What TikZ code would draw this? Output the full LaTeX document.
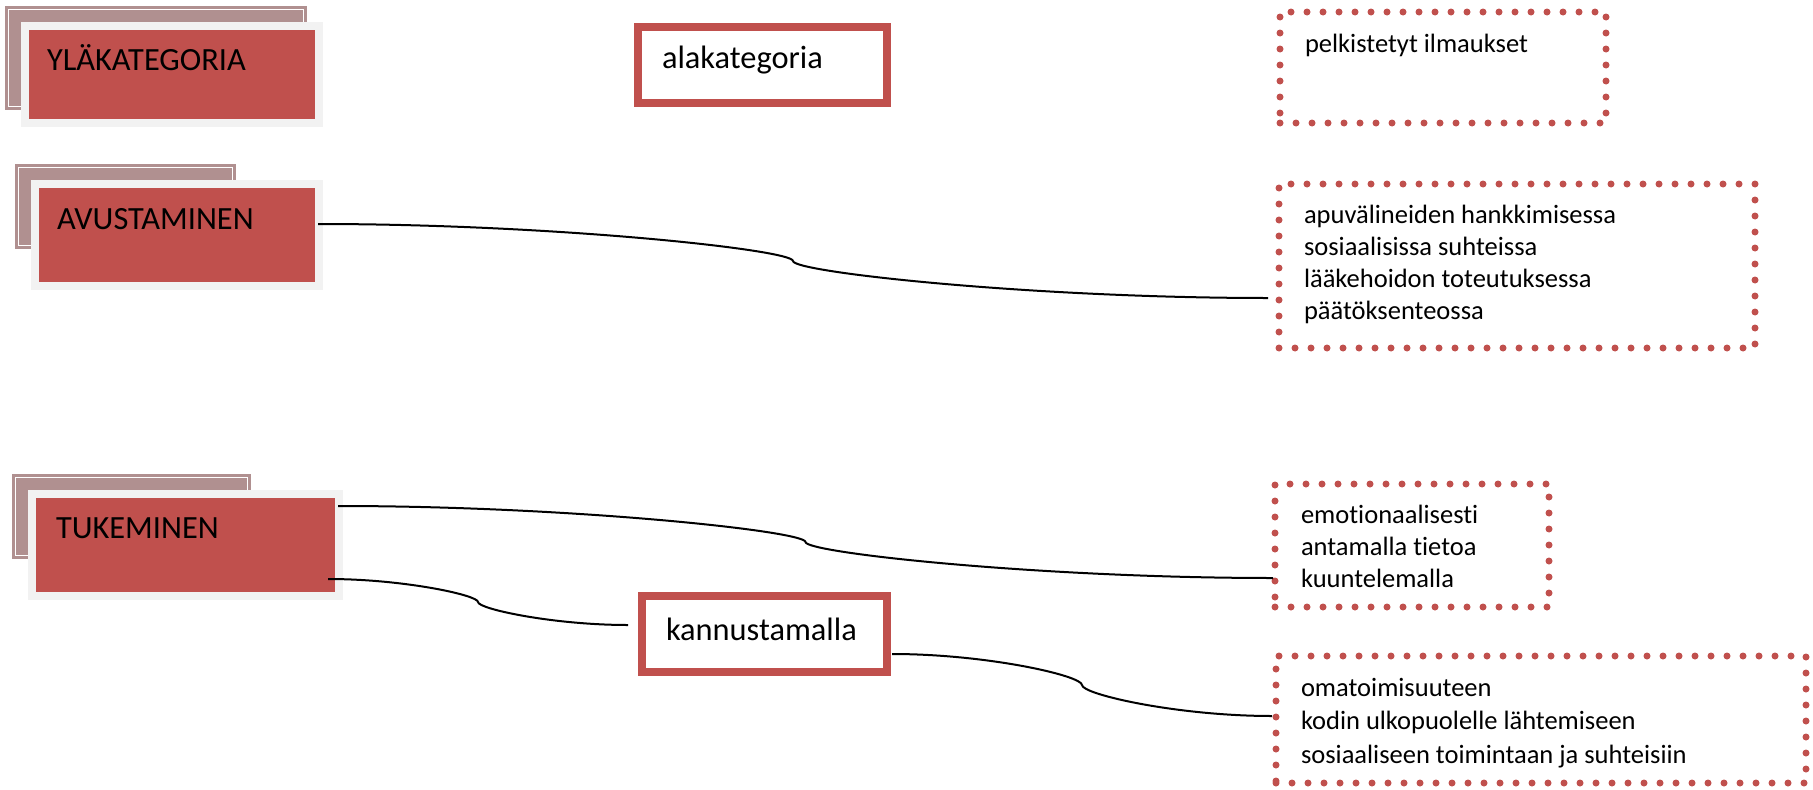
\documentclass[tikz,border=0pt]{standalone}
\usepackage{fontspec}
\setmainfont{Carlito}[Ligatures={NoCommon,NoContextual}]
\usetikzlibrary{calc}
\definecolor{catred}{RGB}{192,80,77}
\definecolor{mauve}{RGB}{176,144,144}
\definecolor{rimgray}{RGB}{242,242,242}
\newcommand{\mylines}[1]{\begin{tabular}[t]{@{}l@{}}#1\end{tabular}}
\tikzset{
  every node/.style={inner sep=0pt, outer sep=0pt},
  backbox/.style={fill=mauve, anchor=north west,
    path picture={\draw[white, line width=1pt]
      ([shift={(3.5,3.5)}]path picture bounding box.north west) rectangle
      ([shift={(-3.5,-3.5)}]path picture bounding box.south east);}},
  catbox/.style={fill=catred, draw=rimgray, line width=8pt, anchor=north west},
  subbox/.style={fill=white, draw=catred, line width=8pt, anchor=north west},
  dotbox/.style={draw=catred, line width=7pt, line cap=round,
    dash pattern=on 0pt off 16pt, anchor=north west},
  bigtext/.style={font=\fontsize{32.4}{38}\selectfont, anchor=base west},
  smalltext/.style={font=\fontsize{26.5}{32}\selectfont, anchor=base west},
  conn/.style={draw=black, line width=2pt},
  bconn/.style={to path={
    let \p1=(\tikztostart), \p2=(\tikztotarget), \p3=($(\p1)!0.5!(\p2)$) in
    .. controls ({\x1+0.5*(\x3-\x1)},\y1) and (\x3,{\y3+0.15*(\y1-\y2)}) .. (\p3)
    .. controls (\x3,{\y3-0.15*(\y1-\y2)}) and ({\x2-0.5*(\x2-\x3)},\y2) .. (\tikztotarget)}}
}
\begin{document}
\begin{tikzpicture}[x=1pt, y=-1pt]
\useasboundingbox (0,0) rectangle (1813,790);

% legend row
\node[backbox, minimum width=302, minimum height=104] (ylaback) at (5,6) {};
\node[catbox, minimum width=294, minimum height=96.5] (yla) at (25,26) {};
\node[bigtext] (ylatext) at (47,70) {YLÄKATEGORIA};

\node[subbox, minimum width=249, minimum height=76] (ala) at (638,27) {};
\node[bigtext] (alatext) at (662,68) {alakategoria};

\node[dotbox, minimum width=326, minimum height=111] (d1) at (1280,12) {};
\node[smalltext] (d1text) at (1305,52) {pelkistetyt ilmaukset};

% AVUSTAMINEN
\node[backbox, minimum width=221, minimum height=85] (avuback) at (15,164) {};
\node[catbox, minimum width=284, minimum height=102] (avu) at (35,184) {};
\node[bigtext] (avutext) at (57,229) {AVUSTAMINEN};

\node[dotbox, minimum width=476, minimum height=164] (d2) at (1279,184) {};
\node[smalltext] (d2text) at (1304,223) {\mylines{apuvälineiden hankkimisessa\\
  sosiaalisissa suhteissa\\ lääkehoidon toteutuksessa\\ päätöksenteossa}};

% TUKEMINEN
\node[backbox, minimum width=239, minimum height=85] (tukback) at (12,474) {};
\node[catbox, minimum width=307, minimum height=102.5] (tuk) at (32,493.5) {};
\node[bigtext] (tuktext) at (56,538) {TUKEMINEN};

\node[dotbox, minimum width=274, minimum height=123] (d3) at (1275,484) {};
\node[smalltext] (d3text) at (1301,523) {\mylines{emotionaalisesti\\
  antamalla tietoa\\ kuuntelemalla}};

\node[subbox, minimum width=245, minimum height=76] (kan) at (642,596) {};
\node[bigtext] (kantext) at (666,640) {kannustamalla};

\node[dotbox, minimum width=530, minimum height=127] (d4) at (1276,656) {};
\node[smalltext, font=\fontsize{26.5}{33.5}\selectfont] (d4text) at (1301,696) {\mylines{omatoimisuuteen\\
  kodin ulkopuolelle lähtemiseen\\ sosiaaliseen toimintaan ja suhteisiin}};

% connectors
\draw[conn] ($(avu.east)+(-1,-11)$) to[bconn] ($(d2.west)+(-11,32)$);
\draw[conn] ($(tuk.east)+(-1,-38.75)$) to[bconn] ($(d3.west)+(-2,32.5)$);
\draw[conn] ($(tuk.east)+(-11,34.25)$) to[bconn] ($(kan.west)+(-14,-9)$);
\draw[conn] ($(kan.east)+(5,20)$) to[bconn] ($(d4.west)+(-4,-3.5)$);
\end{tikzpicture}
\end{document}
